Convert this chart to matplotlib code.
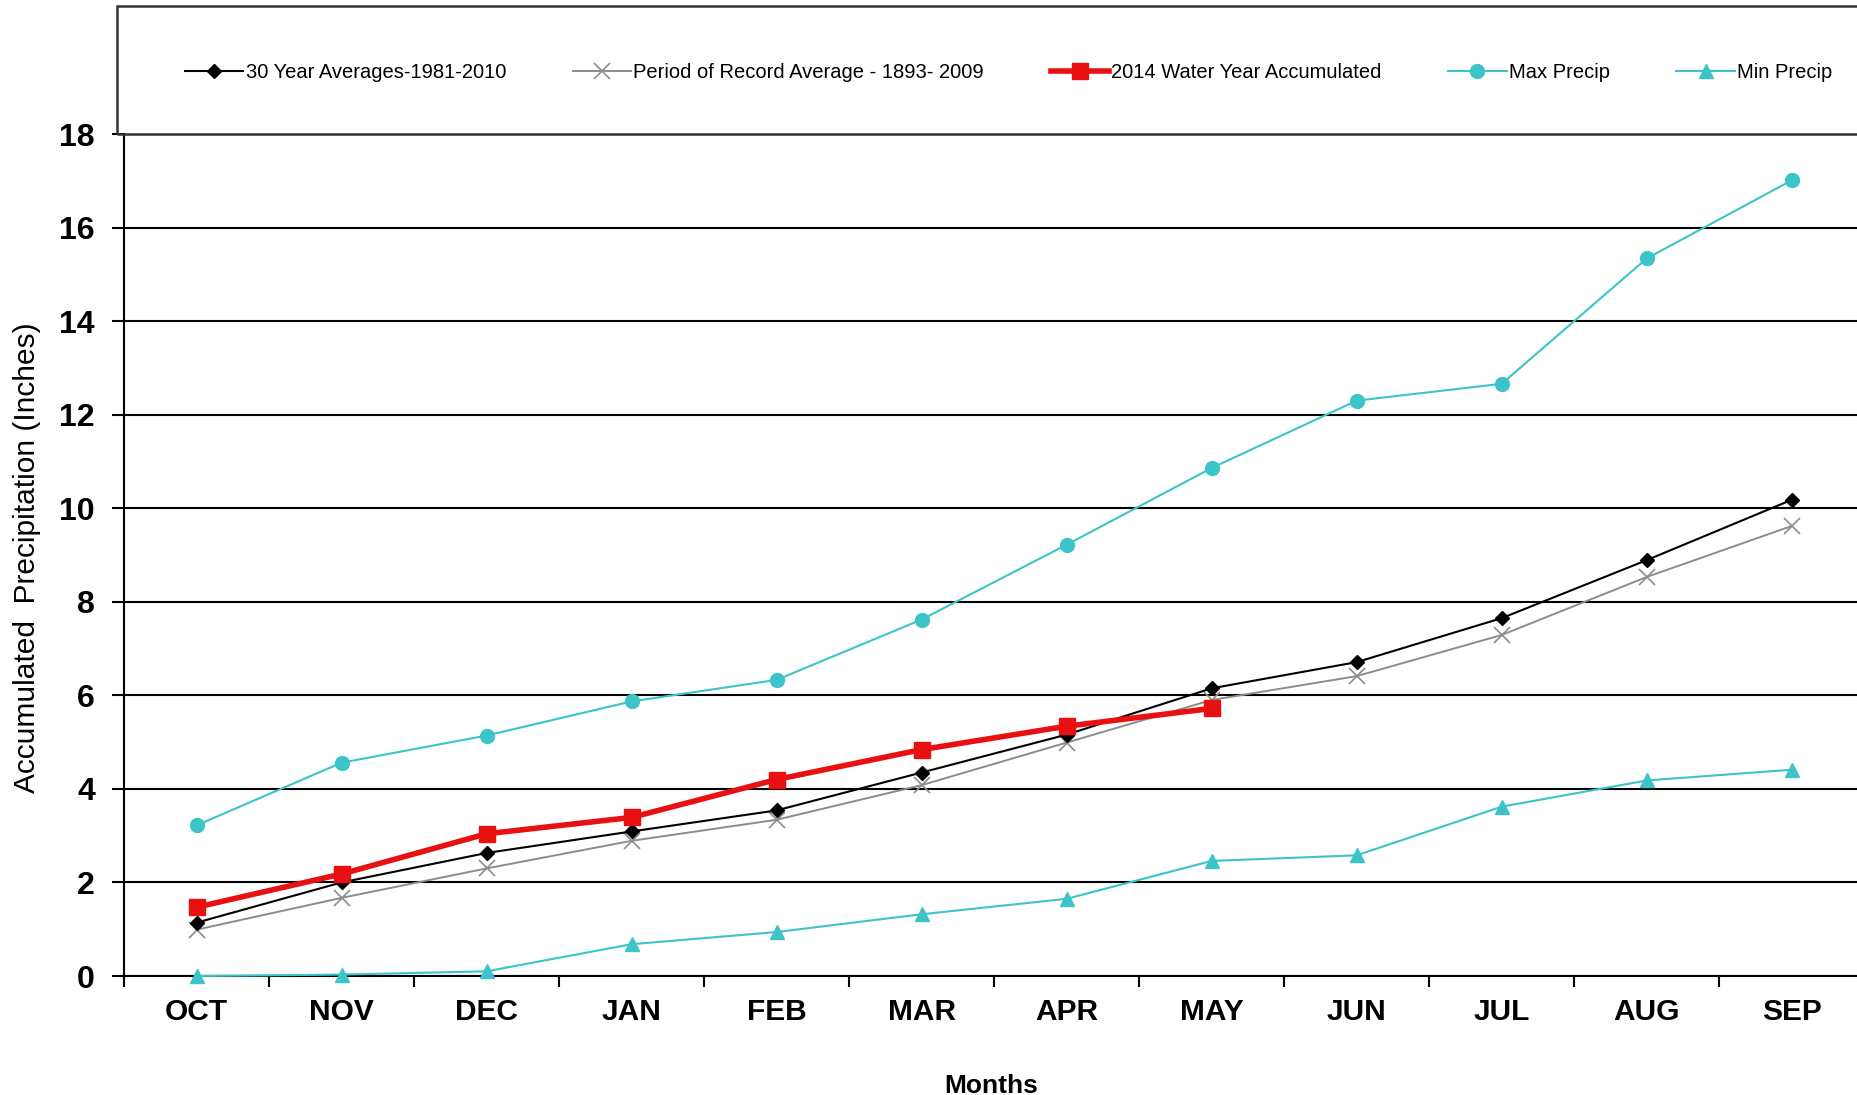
import numpy as np
import matplotlib
matplotlib.use("Agg")
import matplotlib.pyplot as plt
from matplotlib.patches import Rectangle
from matplotlib.ticker import FixedLocator

plt.rcParams['font.family'] = ['Liberation Sans', 'DejaVu Sans']

# data
months = ['OCT', 'NOV', 'DEC', 'JAN', 'FEB', 'MAR', 'APR', 'MAY', 'JUN', 'JUL', 'AUG', 'SEP']
avg_30yr = [1.14, 2.00, 2.63, 3.09, 3.54, 4.35, 5.16, 6.15, 6.71, 7.65, 8.89, 10.18]
por_avg = [0.99, 1.67, 2.30, 2.89, 3.34, 4.08, 4.99, 5.90, 6.41, 7.29, 8.53, 9.62]
wy_2014 = [1.47, 2.18, 3.04, 3.39, 4.20, 4.84, 5.34, 5.72]
max_precip = [3.22, 4.56, 5.14, 5.87, 6.33, 7.62, 9.22, 10.86, 12.30, 12.66, 15.34, 17.01]
min_precip = [0.00, 0.03, 0.10, 0.68, 0.94, 1.32, 1.65, 2.46, 2.58, 3.62, 4.18, 4.41]
y_ticks = [0, 2, 4, 6, 8, 10, 12, 14, 16, 18]

labels = ['30 Year Averages-1981-2010', 'Period of Record Average - 1893- 2009',
          '2014 Water Year Accumulated', 'Max Precip', 'Min Precip']

W, H = 1857, 1095
fig = plt.figure(figsize=(W / 100, H / 100), dpi=100)
ax = fig.add_axes([124 / W, 1 - 976 / H, 1 - 124 / W, (976 - 134) / H])

x = np.arange(len(months))
cyan = '#3cc4c8'

h1, = ax.plot(x, avg_30yr, color='black', lw=1.5, marker='D', ms=7, zorder=4)
h2, = ax.plot(x, por_avg, color='#8c8c8c', lw=1.4, marker='x', ms=11, mew=1.2, zorder=3)
h3, = ax.plot(x[:len(wy_2014)], wy_2014, color='#e81010', lw=4, marker='s', ms=11, zorder=5)
h4, = ax.plot(x, max_precip, color=cyan, lw=1.5, marker='o', ms=10, zorder=3)
h5, = ax.plot(x, min_precip, color=cyan, lw=1.5, marker='^', ms=10, zorder=3, clip_on=False)

ax.set_xlim(-0.5, 11.45)
ax.set_ylim(0, 18)
ax.set_yticks(y_ticks)
ax.set_yticklabels([str(v) for v in y_ticks], fontsize=23, fontweight='bold')
ax.set_xticks(x)
ax.set_xticklabels(months, fontsize=21.5, fontweight='bold')
ax.xaxis.set_minor_locator(FixedLocator(np.arange(-0.5, 11.6, 1)))
ax.tick_params(axis='x', which='major', length=0, pad=16)
ax.tick_params(axis='x', which='minor', length=8, width=1.5, direction='out')
ax.tick_params(axis='y', length=9, width=1.5, pad=12)

ax.grid(axis='y', color='black', lw=1.5, zorder=1)
for s in ['top', 'right']:
    ax.spines[s].set_visible(False)
ax.spines['left'].set_linewidth(1.5)
ax.spines['bottom'].set_linewidth(1.5)

fig.text(27 / W, 1 - 558 / H, 'Accumulated  Precipitation (Inches)', rotation=90,
         ha='center', va='center', fontsize=21.5)
fig.text(991 / W, 1 - 1086 / H, 'Months', ha='center', va='center',
         fontsize=19, fontweight='bold')

# legend box on top
fig.patches.append(Rectangle((117 / W, 1 - 134 / H), 1.0, (134 - 6) / H,
                             transform=fig.transFigure, fill=False,
                             edgecolor='#333333', lw=1.8))
fig.legend([h1, h2, h3, h4, h5], labels, loc='center left',
           bbox_to_anchor=(185 / W, 1 - 73 / H), ncol=5, frameon=False,
           fontsize=14.5, handlelength=2.9, handletextpad=0.12,
           columnspacing=3.3, borderpad=0, borderaxespad=0)

fig.savefig('out.png', dpi=100)
